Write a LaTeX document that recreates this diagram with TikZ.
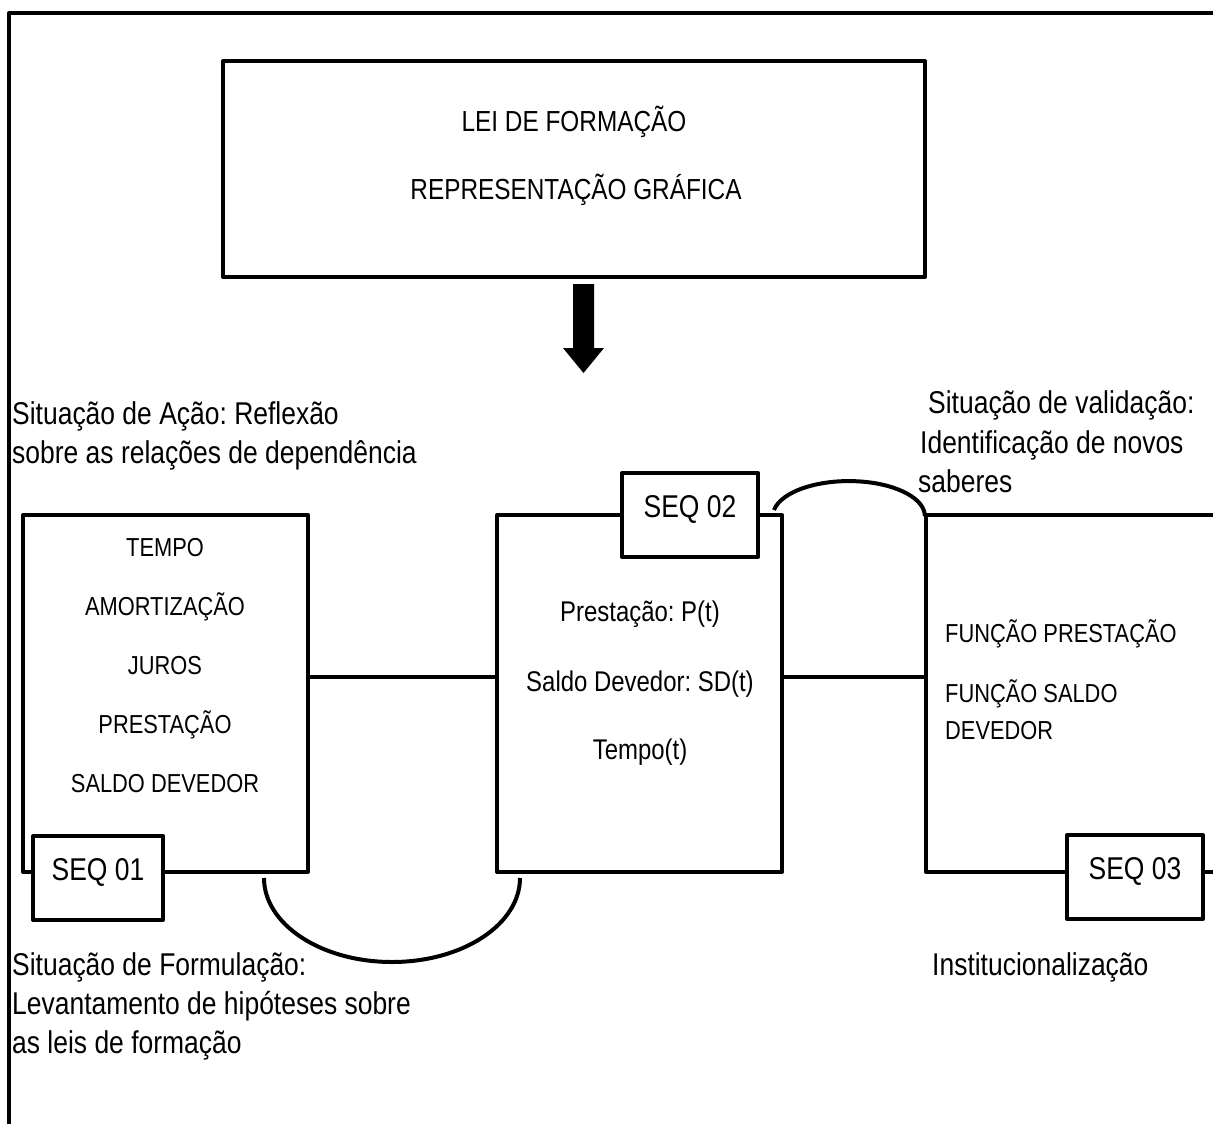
\documentclass[tikz,border=0pt]{standalone}
\usepackage{fontspec}
\setmainfont{Liberation Sans}[FakeStretch=0.84]
\frenchspacing
\begin{document}
\begin{tikzpicture}[x=1pt,y=-1pt,line join=round,
  heavy/.style={line width=4pt},
  boxshape/.style={draw,line width=4pt,rectangle,inner sep=0pt,outer sep=0pt},
  seqbox/.style={boxshape,fill=white,minimum width=136pt,minimum height=84pt,
    text height=23pt,text depth=19pt,font=\fontsize{31.5}{32}\selectfont},
  lbl/.style={inner sep=0pt,anchor=base west,font=\fontsize{31.5}{32}\selectfont},
  toptxt/.style={inner sep=0pt,anchor=base,font=\fontsize{29}{30}\selectfont},
  onetxt/.style={inner sep=0pt,anchor=base,font=\fontsize{26}{27}\selectfont},
  twotxt/.style={inner sep=0pt,anchor=base,font=\fontsize{28.5}{29}\selectfont},
  threetxt/.style={inner sep=0pt,anchor=base west,font=\fontsize{26}{27}\selectfont},
]
\useasboundingbox (0,0) rectangle (1213,1124);

% outer frame (left and top sides)
\draw[heavy] (9,1124) -- (9,13) -- (1213,13);

% top box
\node[boxshape,minimum width=702pt,minimum height=216pt,anchor=north west] (top) at (223,61) {};
\node[toptxt] (lei) at (574,131) {LEI DE FORMAÇÃO};
\node[toptxt] (rep) at (576,199) {REPRESENTAÇÃO GRÁFICA};

% block arrow
\fill (573,284) -- (594,284) -- (594,348) -- (604,348) -- (583.5,373)
  -- (563,348) -- (573,348) -- cycle;

% three boxes
\node[boxshape,minimum width=285pt,minimum height=357pt,anchor=north west] (b1) at (23,515) {};
\node[boxshape,minimum width=285pt,minimum height=357pt,anchor=north west] (b2) at (497,515) {};
\node[inner sep=0pt,outer sep=0pt,minimum width=287pt,minimum height=357pt,anchor=north west] (b3) at (926,515) {};
\draw[heavy] (b3.north east) -- (b3.north west) -- (b3.south west) -- (b3.south east);

% connectors between boxes
\draw[heavy] (b1.east |- 0,677) -- (b2.west |- 0,677);
\draw[heavy] (b2.east |- 0,677) -- (b3.west |- 0,677);

% arcs
\draw[heavy] (264,878) arc[start angle=180,end angle=0,x radius=128,y radius=84];
\draw[heavy] (774,510) arc[start angle=-170,end angle=0,x radius=76,y radius=35];

% sequence labels
\node[seqbox,minimum width=130pt] (s1) at (98,878) {SEQ 01};
\node[seqbox] (s2) at (690,515) {SEQ 02};
\node[seqbox] (s3) at (1135,877) {SEQ 03};

% box contents
\node[onetxt] (t11) at (165,556) {TEMPO};
\node[onetxt] (t12) at (165,615) {AMORTIZAÇÃO};
\node[onetxt] (t13) at (165,674) {JUROS};
\node[onetxt] (t14) at (165,733) {PRESTAÇÃO};
\node[onetxt] (t15) at (165,792) {SALDO DEVEDOR};

\node[twotxt] (t21) at (640,621) {Prestação: P(t)};
\node[twotxt] (t22) at (640,691) {Saldo Devedor: SD(t)};
\node[twotxt] (t23) at (640,759) {Tempo(t)};

\node[threetxt] (t31) at (945,642) {FUNÇÃO PRESTAÇÃO};
\node[threetxt] (t32) at (945,702) {FUNÇÃO SALDO};
\node[threetxt] (t33) at (945,739) {DEVEDOR};

% situation labels
\node[lbl] (a1) at (12,424) {Situação de Ação: Reflexão};
\node[lbl] (a2) at (12,463) {sobre as relações de dependência};

\node[lbl] (v1) at (928,413) {Situação de validação:};
\node[lbl] (v2) at (920,453) {Identificação de novos};
\node[lbl] (v3) at (918,492) {saberes};

\node[lbl] (f1) at (12,975) {Situação de Formulação:};
\node[lbl] (f2) at (12,1014) {Levantamento de hipóteses sobre};
\node[lbl] (f3) at (12,1053) {as leis de formação};

\node[lbl] (i1) at (932,975) {Institucionalização};
\end{tikzpicture}
\end{document}
